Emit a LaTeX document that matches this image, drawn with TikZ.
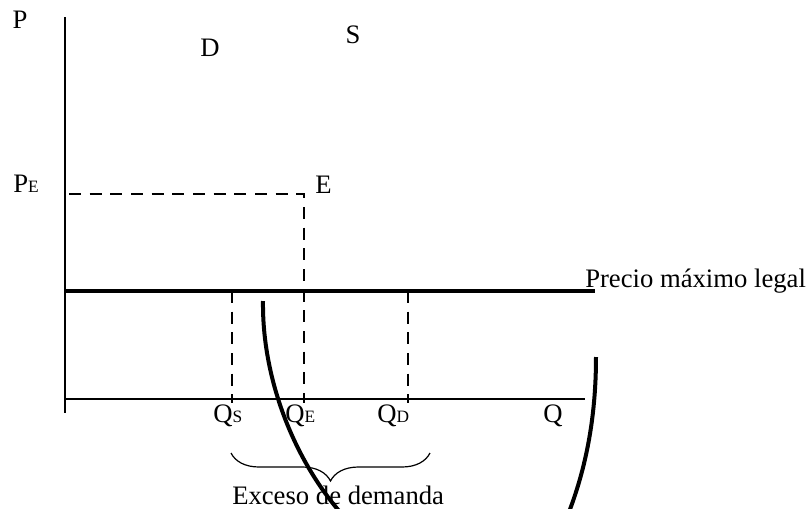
\documentclass[tikz,border=0pt]{standalone}
\usepackage{fontspec}
\setmainfont{Liberation Serif}
\usetikzlibrary{decorations.pathreplacing}
\begin{document}
\begin{tikzpicture}[x=0.75pt,y=-0.75pt,
  lbl/.style={inner sep=0pt,font=\fontsize{20}{24}\selectfont},
  big/.style={inner sep=0pt,font=\fontsize{20}{24}\selectfont},
  axisline/.style={line width=1.6pt},
  ceiling/.style={line width=3pt},
  guide/.style={line width=2pt,dash pattern=on 9pt off 6.5pt},
  curve/.style={line width=3pt},
  bracestyle/.style={line width=0.9pt,decorate,decoration={brace,amplitude=21pt}}]
\newcommand{\subl}[1]{\raisebox{-0.5pt}{\fontsize{13}{15}\selectfont #1}}
\useasboundingbox (0,0) rectangle (808,508);
% axes
\coordinate (ytop) at (65,17);
\coordinate (ybot) at (65,413);
\coordinate (xl) at (65,399);
\coordinate (xr) at (585,399);
\draw[axisline] (ytop) -- (ybot);
\draw[axisline] (xl) -- (xr);
% labels
\node[lbl,anchor=base] (P) at (20,28) {P};
\node[lbl,anchor=base] (D) at (210,56) {D};
\node[lbl,anchor=base] (S) at (353,43) {S};
\node[lbl,anchor=base west] (PE) at (13,192) {P\subl{E}};
\node[lbl,anchor=base west] (E) at (315,193) {E};
% equilibrium guides
\coordinate (pe0) at (69,194);
\coordinate (e) at (304,194);
\coordinate (qe) at (304,403);
\draw[guide] (pe0) -- (e) -- (qe);
% price ceiling
\coordinate (c0) at (65,291);
\coordinate (c1) at (595,291);
\draw[ceiling] (c0) -- (c1);
\node[big,anchor=base west] (pml) at (585,287) {Precio máximo legal};
% Qs and Qd guides
\coordinate (qs0) at (232,291);
\coordinate (qs1) at (232,403);
\coordinate (qd0) at (408,291);
\coordinate (qd1) at (408,403);
\draw[guide] (qs0) -- (qs1);
\draw[guide] (qd0) -- (qd1);
% quantity labels
\node[lbl,anchor=base west] (QS) at (213,422) {Q\subl{S}};
\node[lbl,anchor=base west] (QE) at (285,422) {Q\subl{E}};
\node[lbl,anchor=base west] (QD) at (377,422) {Q\subl{D}};
\node[lbl,anchor=base west] (Q) at (543,422) {Q};
% brace
\coordinate (b1) at (430,453);
\coordinate (b0) at (231,453);
\draw[bracestyle] (b1) -- (b0);
\node[big,anchor=base west] (exc) at (232,504) {Exceso de demanda};
% curves
\coordinate (d0) at (263,301);
\coordinate (d1) at (340,512);
\draw[curve] (d0) .. controls (262,380) and (295,460) .. (d1);
\coordinate (s0) at (596,357);
\coordinate (s1) at (569,512);
\draw[curve] (s0) .. controls (596,420) and (585,470) .. (s1);
\end{tikzpicture}
\end{document}
